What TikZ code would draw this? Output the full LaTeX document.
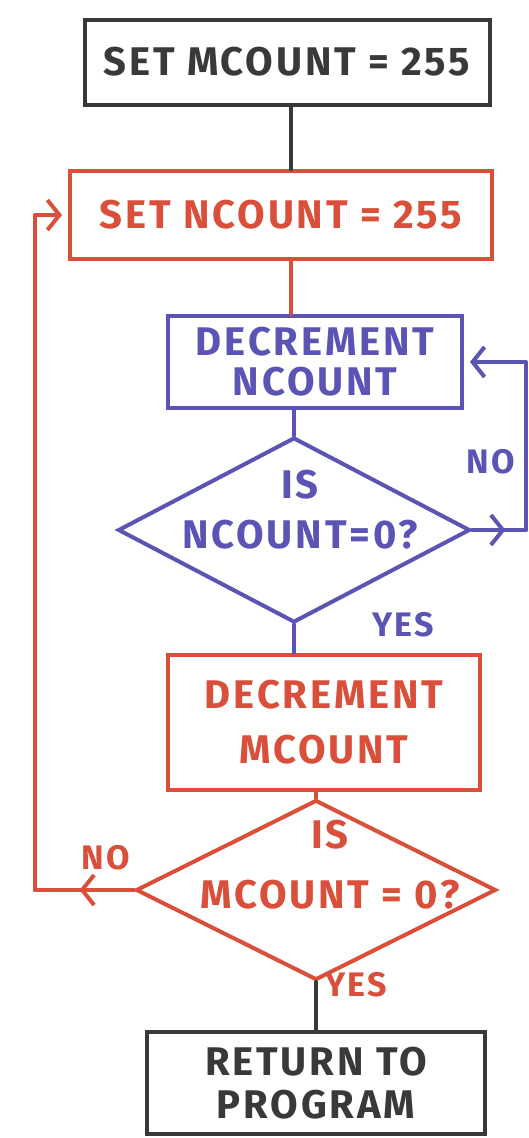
\documentclass[tikz,border=0pt]{standalone}
\usepackage{fontspec}
\setsansfont[LetterSpace=7]{Fira Sans}
\usetikzlibrary{shapes.geometric,arrows.meta,decorations.markings,positioning}
\definecolor{cInk}{HTML}{3A3938}
\definecolor{cOuter}{HTML}{D94F3A}
\definecolor{cInner}{HTML}{5B54B4}
\tikzset{
  box/.style    = {rectangle, draw=#1, text=#1, line width=4pt, align=center,
                   inner sep=0pt, font=\sffamily\bfseries\fontsize{40}{46}\selectfont},
  box/.default  = cInk,
  dmd/.style    = {diamond, draw=#1, line width=4pt, inner sep=0pt},
  dtxt/.style   = {text=#1, align=center, inner sep=0pt,
                   font=\sffamily\bfseries\fontsize{40}{46}\selectfont},
  lab/.style    = {text=#1, inner sep=0pt, font=\sffamily\bfseries\fontsize{34}{38}\selectfont},
  fl/.style     = {draw=#1, line width=4pt, line cap=round, line join=round},
  tip/.style    = {fl=#1, -{Straight Barb[length=12pt,width=30pt]}, shorten >=6pt},
  midtip/.style = {postaction={decorate}, decoration={markings,
                   mark=at position #1 with {\arrow{Straight Barb[length=12pt,width=30pt]}}}},
}
\begin{document}
\begin{tikzpicture}[x=1pt, y=-1pt]
  \useasboundingbox (0,0) rectangle (529,1138);
  \node[box, minimum width=405pt, minimum height=85pt] (setm) at (287,62) {SET MCOUNT = 255};
  \node[box=cOuter, minimum width=422pt, minimum height=88pt] (setn) at (281,215) {SET NCOUNT = 255};
  \node[box=cInner, minimum width=294pt, minimum height=92pt] (decn) at (315,362) {DECREMENT\\[-6pt]NCOUNT};
  \node[dmd=cInner, minimum width=352pt, minimum height=185pt] (isn) at (294,530) {};
  \node[dtxt=cInner] (isnt) at (300,510) {IS\\[4pt]NCOUNT=0?};
  \node[box=cOuter, minimum width=312pt, minimum height=135pt] (decm) at (324,722) {DECREMENT\\[9pt]MCOUNT};
  \node[dmd=cOuter, minimum width=360pt, minimum height=180pt] (ism) at (316,890) {};
  \node[dtxt=cOuter] (ismt) at (330,865) {IS\\[14pt]MCOUNT = 0?};
  \node[box, minimum width=338pt, minimum height=102pt] (ret) at (316,1083) {RETURN TO\\[-3pt]PROGRAM};

  % branch labels
  \node[lab=cInner] (nno) at (491,462) {NO};
  \node[lab=cInner] (nyes) at (403,625) {YES};
  \node[lab=cOuter] (mno) at (106,858) {NO};
  \node[lab=cOuter] (myes) at (356,985) {YES};

  % loop corners
  \coordinate (spine) at (291,0);
  \coordinate (rloop) at (526,0);
  \coordinate (lloop) at (35,0);

  \draw[fl=cInk] (setm.south -| spine) -- (setn.north -| spine);
  \draw[fl=cOuter] (setn.south -| spine) -- (decn.north -| spine);
  \draw[fl=cInner] (decn.south -| isn.north) -- (isn.north);
  \draw[fl=cInner] (isn.south) -- (isn.south |- decm.north);
  \draw[fl=cInner, midtip=0.62] (isn.east) -- (isn.east -| rloop);
  \draw[tip=cInner] (isn.east -| rloop) |- (decn.east);
  \draw[fl=cOuter] (decm.south -| ism.north) -- (ism.north);
  \draw[fl=cOuter, midtip=0.55] (ism.west) -- (ism.west -| lloop);
  \draw[tip=cOuter] (ism.west -| lloop) |- (setn.west);
  \draw[fl=cInk] (ism.south) -- (ism.south |- ret.north);
\end{tikzpicture}
\end{document}
